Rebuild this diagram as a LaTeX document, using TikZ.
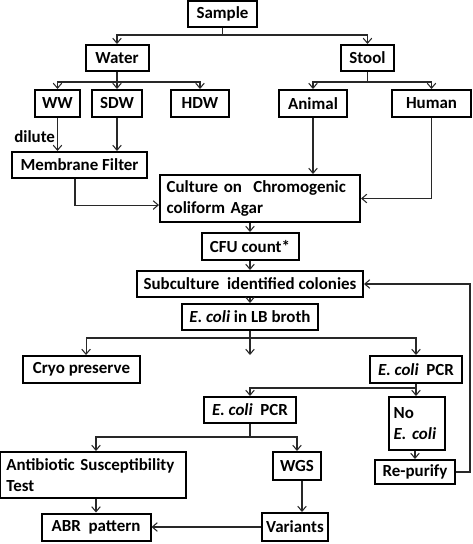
\documentclass[tikz,border=0pt]{standalone}
\usepackage{fontspec}
\setmainfont{Carlito}
\usetikzlibrary{arrows.meta,calc,positioning}
\definecolor{lineColor}{RGB}{40,40,40}
\tikzset{stage/.style={draw, line width=1.5pt, inner sep=0pt, align=center, font=\fontsize{12.7pt}{15.5pt}\selectfont\bfseries}}
\tikzset{boxsize/.style 2 args={minimum width=0.75pt*#1, minimum height=0.75pt*#2}}
\tikzset{textstage/.style={stage, align=left, inner xsep=5pt}}

\begin{document}
\begin{tikzpicture}[x=0.75pt, y=-0.75pt]
\useasboundingbox (0,0) rectangle (473,544);
% Nodes
\node (sample) [stage, boxsize={69}{26}] at (222.5,14) {Sample};
\node (water) [stage, boxsize={63}{26}] at (117,58) {Water};
\node (stool) [stage, boxsize={53}{26}] at (367.5,58) {Stool};

\node (ww) [stage, boxsize={45}{27}] at (57.5,103.5) {WW};
\node (sdw) [stage, boxsize={50}{27}] at (117,103.5) {SDW};
\node (hdw) [stage, boxsize={58}{27}] at (200,103.5) {HDW};
\node (animal) [stage, boxsize={68}{27}] at (313,103.5) {Animal};
\node (human) [stage, boxsize={79}{27}] at (431.5,103.5) {Human};

\node (membrane) [stage, boxsize={135}{26}] at (79.5,165) {Membrane Filter};
\node (culture) [textstage, boxsize={200}{47}, text width=140pt] at (260,198.5) {Culture on\ \ Chromogenic\\ coliform Agar};
\node (cfu) [stage, boxsize={97}{27}] at (250,246.5) {CFU count*};
\node (subculture) [stage, boxsize={226}{26}] at (250,284) {Subculture\ \ identified colonies};
\node (broth) [stage, boxsize={136}{26}] at (250,317) {\textit{E. coli} in LB broth};

\node (cryo) [stage, boxsize={117}{27}] at (81.5,369.5) {Cryo preserve};
\node (pcrFirst) [stage, boxsize={92}{27}] at (416,369.5) {\textit{E. coli}\ \ PCR};
\node (pcrSecond) [stage, boxsize={92}{26}] at (250,410) {\textit{E. coli}\ \ PCR};
\node (noecoli) [textstage, boxsize={54}{53}, text width=35pt, inner xsep=3.5pt] at (417,423.5) {No\\ \mbox{\textit{E. coli}}};
\node (repurify) [stage, boxsize={80}{24}] at (415,472) {Re-purify};

\node (ast) [textstage, boxsize={184}{46}, text width=130pt] at (93,475) {Antibiotic Susceptibility\\ Test};
\node (wgs) [stage, boxsize={48}{28}] at (297,466) {WGS};
\node (abr) [stage, boxsize={109}{27}] at (96,527) {ABR\ \ pattern};
\node (variants) [stage, boxsize={66}{28}] at (295,527) {Variants};

% Branch points
\coordinate (sampleSplit) at (222.5,35);
\coordinate (waterSplit) at (117,82);
\coordinate (stoolSplit) at (367.5,82);
\coordinate (brothSplit) at (250,338);
\coordinate (brothEnd) at (250,355);
\coordinate (pcrSplit) at (416,388);
\coordinate (pcrSecondSplit) at (250,437);
\coordinate (loopback) at (470,472);

% Connectors
\begin{scope}[line width=0.8pt, draw=lineColor]

\draw (sample) -- (sampleSplit);
\draw [-{Straight Barb[length=3.8pt,width=6.5pt]}] (sampleSplit) -| (water);
\draw [-{Straight Barb[length=3.8pt,width=6.5pt]}] (sampleSplit) -| (stool);

\draw (water) -- (waterSplit);
\draw [-{Straight Barb[length=3.8pt,width=6.5pt]}] (waterSplit) -| (ww);
\draw [-{Straight Barb[length=3.8pt,width=6.5pt]}] (waterSplit) -- (sdw);
\draw [-{Straight Barb[length=3.8pt,width=6.5pt]}] (waterSplit) -| (hdw);
\draw (stool) -- (stoolSplit);
\draw [-{Straight Barb[length=3.8pt,width=6.5pt]}] (stoolSplit) -| (animal);
\draw [-{Straight Barb[length=3.8pt,width=6.5pt]}] (stoolSplit) -| (human);

\draw [-{Straight Barb[length=3.8pt,width=6.5pt]}] (ww) -- node[left, pos=0.55, inner sep=1.5pt, font=\fontsize{12.7pt}{15pt}\selectfont\bfseries] {dilute} (ww |- membrane.north);
\draw [-{Straight Barb[length=3.8pt,width=6.5pt]}] (sdw) -- (sdw |- membrane.north);
\draw [-{Straight Barb[length=3.8pt,width=6.5pt]}] ([xshift=-3.4pt]membrane.south) |- ([yshift=-4.9pt]culture.west);
\draw [-{Straight Barb[length=3.8pt,width=6.5pt]}] (animal) -- (animal |- culture.north);
\draw [-{Straight Barb[length=3.8pt,width=6.5pt]}] (human) |- (culture);

\draw [-{Straight Barb[length=3.8pt,width=6.5pt]}] (culture.south -| cfu) -- (cfu);
\draw [-{Straight Barb[length=3.8pt,width=6.5pt]}] (cfu) -- (subculture);
\draw [-{Straight Barb[length=3.8pt,width=6.5pt]}] (subculture) -- (broth);
\draw [-{Straight Barb[length=3.8pt,width=6.5pt]}] (broth) -- (brothEnd);
\draw [-{Straight Barb[length=3.8pt,width=6.5pt]}] (brothSplit) -| ([xshift=3.4pt]cryo.north);
\draw [-{Straight Barb[length=3.8pt,width=6.5pt]}] (brothSplit) -| (pcrFirst);

\draw [-{Straight Barb[length=3.8pt,width=6.5pt]}] (pcrFirst) -- (pcrFirst |- noecoli.north);
\draw [-{Straight Barb[length=3.8pt,width=6.5pt]}] (pcrSplit) -| (pcrSecond);
\draw [-{Straight Barb[length=3.8pt,width=6.5pt]}] (noecoli.south -| repurify) -- (repurify);
\draw [-{Straight Barb[length=3.8pt,width=6.5pt]}] (repurify) -- (loopback) |- (subculture);

\draw (pcrSecond) -- (pcrSecondSplit);
\draw [-{Straight Barb[length=3.8pt,width=6.5pt]}] (pcrSecondSplit) -| (ast.north -| abr);
\draw [-{Straight Barb[length=3.8pt,width=6.5pt]}] (pcrSecondSplit) -| (wgs);
\draw [-{Straight Barb[length=3.8pt,width=6.5pt]}] (ast.south -| abr) -- (abr);
\draw [-{Straight Barb[length=3.8pt,width=6.5pt]}] ([xshift=3.75pt]wgs.south) -- ([xshift=3.75pt]wgs.south |- variants.north);
\draw [-{Straight Barb[length=3.8pt,width=6.5pt]}] (variants) -- (abr);

\end{scope}

\end{tikzpicture}
\end{document}
